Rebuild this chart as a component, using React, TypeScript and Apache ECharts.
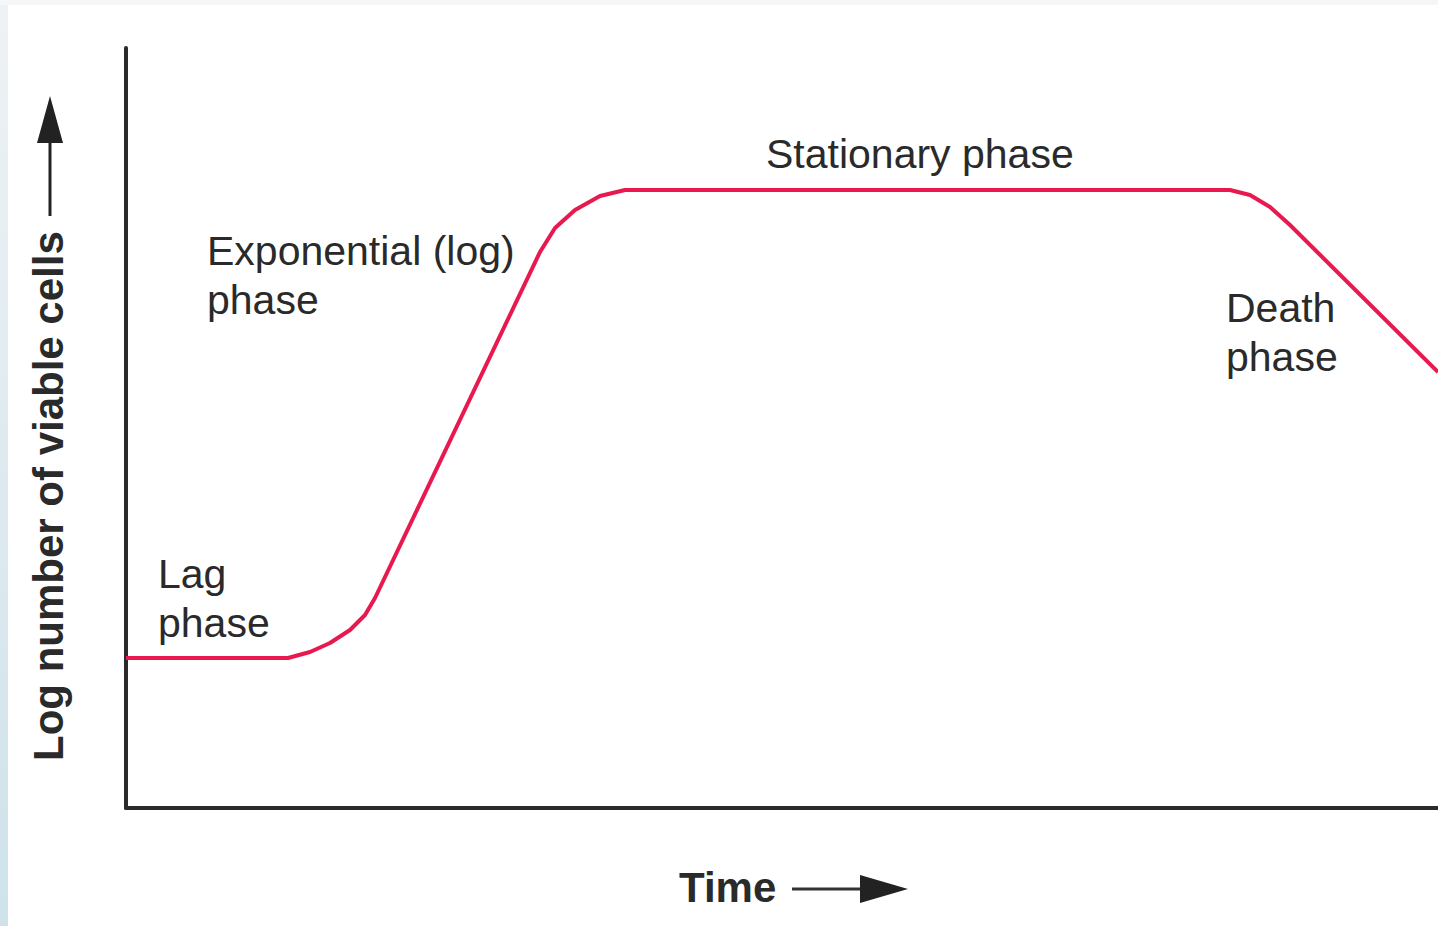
import React, { useEffect, useRef } from "react";
import * as echarts from "echarts";

// Growth curve: time (arbitrary units) vs log number of viable cells (arbitrary units)
const timeValues = [0, 162, 184, 204, 224, 239, 249, 414, 429, 449, 474, 499, 1104, 1124, 1144, 1164, 1312];
const logCells = [150, 150, 156, 165, 178, 193, 210, 556, 580, 598, 612, 618, 618, 613, 601, 583, 436];

const phaseLabels = ["Lag\nphase", "Exponential (log)\nphase", "Stationary phase", "Death\nphase"];
const yAxisTitle = "Log number of viable cells";
const xAxisTitle = "Time";

export default function App() {
  const ref = useRef<HTMLDivElement>(null);
  useEffect(() => {
    if (!ref.current) return;
    const chart = echarts.init(ref.current, null, { renderer: "svg" });
    const font = "'Liberation Sans', Arial, Helvetica, sans-serif";
    const textColor = "#2a2a2a";
    const labelStyle = (x: number, y: number, text: string) => ({
      type: "text",
      x,
      y,
      style: {
        text,
        fill: textColor,
        font: `41px ${font}`,
        lineHeight: 49,
        textVerticalAlign: "top",
      },
    });
    chart.setOption({
      animation: false,
      backgroundColor: "#ffffff",
      grid: { left: 126, top: 48, right: 0, bottom: 118 },
      xAxis: {
        type: "value",
        min: 0,
        max: 1312,
        axisLine: { show: true, onZero: false, lineStyle: { color: "#2b2b2b", width: 4 } },
        axisTick: { show: false },
        axisLabel: { show: false },
        splitLine: { show: false },
      },
      yAxis: {
        type: "value",
        min: 0,
        max: 760,
        axisLine: { show: true, onZero: false, lineStyle: { color: "#2b2b2b", width: 4 } },
        axisTick: { show: false },
        axisLabel: { show: false },
        splitLine: { show: false },
      },
      series: [
        {
          type: "line",
          data: timeValues.map((t, i) => [t, logCells[i]]),
          symbol: "none",
          smooth: false,
          lineStyle: { color: "#e8194f", width: 4 },
        },
      ],
      graphic: [
        // left edge strip
        {
          type: "rect",
          shape: { x: 0, y: 0, width: 8, height: 926 },
          style: {
            fill: new echarts.graphic.LinearGradient(0, 0, 0, 1, [
              { offset: 0, color: "#eef2f5" },
              { offset: 1, color: "#cfe2ea" },
            ]),
          },
          silent: true,
        },
        {
          type: "rect",
          shape: { x: 0, y: 0, width: 1438, height: 5 },
          style: { fill: "#f4f6f7" },
          silent: true,
        },
        labelStyle(158, 549, phaseLabels[0]),
        labelStyle(207, 226, phaseLabels[1]),
        labelStyle(766, 129, phaseLabels[2]),
        labelStyle(1226, 283, phaseLabels[3]),
        // y axis title
        {
          type: "text",
          x: 48,
          y: 761,
          rotation: Math.PI / 2,
          style: {
            text: yAxisTitle,
            fill: textColor,
            font: `bold 42px ${font}`,
            textAlign: "left",
            textVerticalAlign: "middle",
          },
        },
        {
          type: "line",
          shape: { x1: 50, y1: 216, x2: 50, y2: 130 },
          style: { stroke: "#222", lineWidth: 3 },
        },
        {
          type: "polygon",
          shape: { points: [[50, 96], [37, 143], [63, 143]] },
          style: { fill: "#222" },
        },
        // x axis title
        {
          type: "text",
          x: 679,
          y: 887,
          style: {
            text: xAxisTitle,
            fill: textColor,
            font: `bold 42px ${font}`,
            textAlign: "left",
            textVerticalAlign: "middle",
          },
        },
        {
          type: "line",
          shape: { x1: 792, y1: 889, x2: 870, y2: 889 },
          style: { stroke: "#333", lineWidth: 3 },
        },
        {
          type: "polygon",
          shape: { points: [[908, 889], [860, 875], [860, 903]] },
          style: { fill: "#222" },
        },
      ],
    });
    return () => chart.dispose();
  }, []);
  return (
    <div
      ref={ref}
      style={{ position: "fixed", left: 0, top: 0, width: 1438, height: 926 }}
    />
  );
}
